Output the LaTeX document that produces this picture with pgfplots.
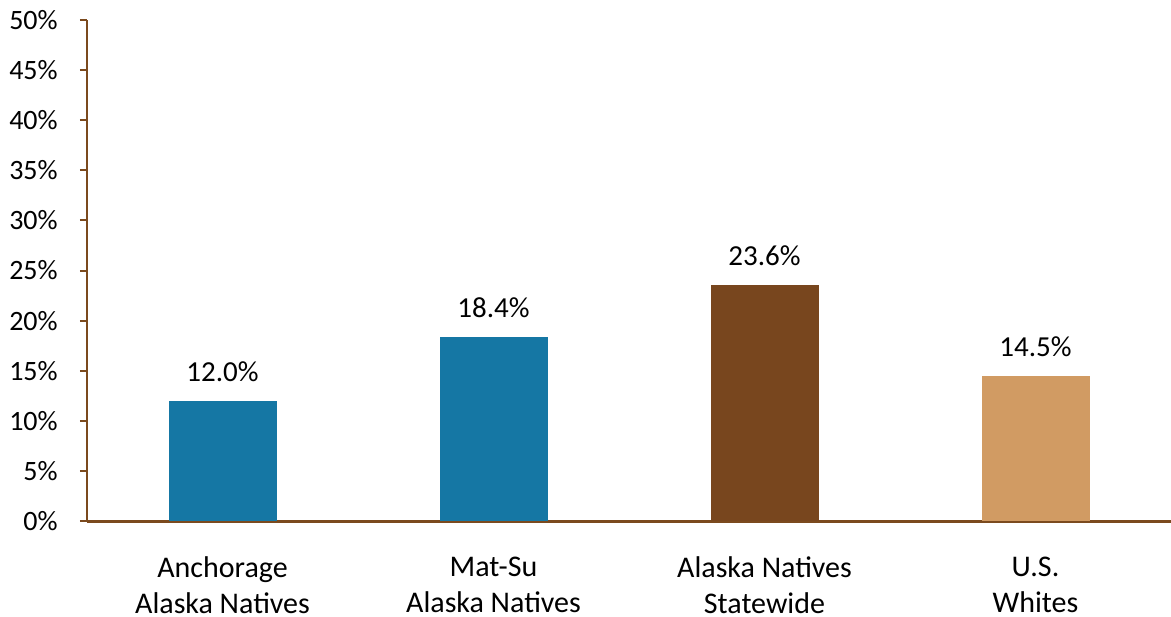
\documentclass[border=0pt]{standalone}
\usepackage{pgfplots}
\pgfplotsset{compat=1.18}
\usepackage{fontspec}
\setmainfont{Carlito}
\definecolor{barblue}{HTML}{1577A4}
\definecolor{barbrown}{HTML}{78461E}
\definecolor{bartan}{HTML}{D19B63}
\definecolor{axisbrown}{HTML}{7B4A1E}
\begin{document}
\fontsize{14}{18}\selectfont
\begin{tikzpicture}
\begin{axis}[
  scale only axis, width=542pt, height=250.5pt,
  xmin=0, xmax=4, ymin=0, ymax=50,
  axis lines*=left,
  x axis line style={color=axisbrown, line width=1.5pt},
  y axis line style={color=axisbrown, line width=1pt},
  ytick={0,5,...,50},
  xtick={0.5,1.5,2.5,3.5},
  xticklabels={{Anchorage\\Alaska Natives},{Mat-Su\\Alaska Natives},{Alaska Natives\\Statewide},{U.S.\\Whites}},
  xtick style={draw=none},
  ytick style={color=axisbrown, line width=1pt},
  tick align=outside, major tick length=3.5pt,
  /pgf/number format/assume math mode=true,
  yticklabel={\pgfmathprintnumber{\tick}\%},
  yticklabel style={text=black, xshift=-6.3pt},
  xticklabel style={align=center, text=black, yshift=-9.5pt,
    font=\fontsize{15}{18}\selectfont},
  ybar, bar width=54pt, bar shift=0pt,
  nodes near coords={\pgfmathprintnumber[fixed,fixed zerofill,precision=1]{\pgfplotspointmeta}\%},
  every node near coord/.append style={anchor=base, yshift=9.5pt, text=black,
    font=\fontsize{14.5}{17}\selectfont},
]
\addplot[fill=barblue, draw=none] coordinates {(0.5,12.0)};
\addplot[fill=barblue, draw=none] coordinates {(1.5,18.4)};
\addplot[fill=barbrown, draw=none] coordinates {(2.5,23.6)};
\addplot[fill=bartan, draw=none] coordinates {(3.5,14.5)};
\coordinate (bl) at (rel axis cs:0,0);
\coordinate (tr) at (rel axis cs:1,1);
\end{axis}
\pgfresetboundingbox
\path[use as bounding box] ([xshift=-43.5pt,yshift=-47.5pt]bl) rectangle ([yshift=10pt]tr);
\end{tikzpicture}
\end{document}
